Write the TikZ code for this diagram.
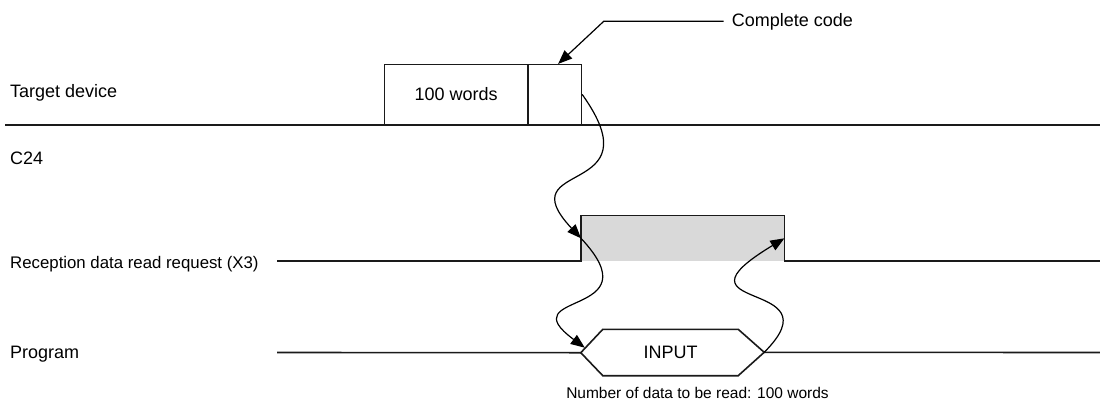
\documentclass[tikz,border=0pt]{standalone}
\usepackage{fontspec}
\setmainfont{Liberation Sans}
\usepackage{tikz}
\usetikzlibrary{positioning,arrows.meta,calc}
\definecolor{pulsegray}{HTML}{D9D9D9}
\definecolor{inkblack}{HTML}{1A1A1A}
\tikzset{
    lbl/.style={inner sep=0pt,anchor=base west,font=\fontsize{18}{21}\selectfont},
    sig/.style={draw=inkblack,line width=1.6pt},
    cell/.style={draw=inkblack,line width=1.1pt,minimum height=60pt,inner sep=0pt,font=\fontsize{18}{21}\selectfont},
    flow/.style={draw=black,line width=1.2pt,-{Triangle[length=14pt,width=11pt]}},
}

\begin{document}
\begin{tikzpicture}[x=1pt,y=-1pt]
    \useasboundingbox (0,0) rectangle (1100,405);
    \node[lbl] (tgt) at (10,97) {Target device};
    \node[lbl] (c24) at (10,164) {C24};
    \node[lbl,font=\fontsize{16.8}{20}\selectfont] (x3lbl) at (10,268) {Reception data read request (X3)};
    \node[lbl] (prg) at (10,358) {Program};
    \coordinate (tla) at (5,125); \coordinate (tlb) at (1100,125);
    \coordinate (x3a) at (277,261); \coordinate (x3b) at (1100,261);
    \coordinate (prga) at (277,352.5); \coordinate (prgb) at (1100,352.5);
    \node[cell,minimum width=143pt,anchor=south west] (data) at (384,125) {100 words};
    \node[cell,minimum width=53pt,anchor=south west] (code) at (data.south east) {};
    \node[lbl] (cc) at (731.7,26) {Complete code};
    \node[fill=pulsegray,minimum width=203pt,minimum height=45pt,inner sep=0pt,anchor=south west] (req) at (581,261) {};
    \node[inner sep=0pt,minimum width=135pt,minimum height=46pt,font=\fontsize{18}{21}\selectfont] (inp) at (670.5,352.5) {INPUT};
    \node[inner sep=0pt,anchor=base,font=\fontsize{15.5}{18}\selectfont] (num) at (697.5,398) {Number of data to be read: 100 words};
    \draw[sig] (tla) -- (tlb);
    \draw[sig] (x3a) -- (req.south west) -- (req.north west) -- (req.north east) -- (req.south east) -- (x3b);
    \draw[sig] (inp.north west) -- (inp.north east) -- ++(26,23) coordinate (pr) -- (inp.south east) -- (inp.south west) -- ++(-22,-23) coordinate (pl) -- cycle;
    \draw[sig] (prga) -- (pl);
    \draw[sig] (pr) -- (prgb);
    \draw[flow] ([xshift=-8pt]cc.west) -- ++(-120,0) -- ([xshift=3pt]code.north);
    \draw[flow] (code.east) .. controls ($(code.east)+(75,105)$) and ($(req.west)+(-75,-80)$) .. (req.west);
    \draw[flow] (req.west) .. controls ($(req.west)+(75,80)$) and ($(pl)+(-73,-62)$) .. ([shift={(4,-5)}]pl);
    \draw[flow] (pr) .. controls ($(pr)+(75,-75)$) and ($(req.east)+(-124,75)$) .. (req.east);
\end{tikzpicture}
\end{document}
